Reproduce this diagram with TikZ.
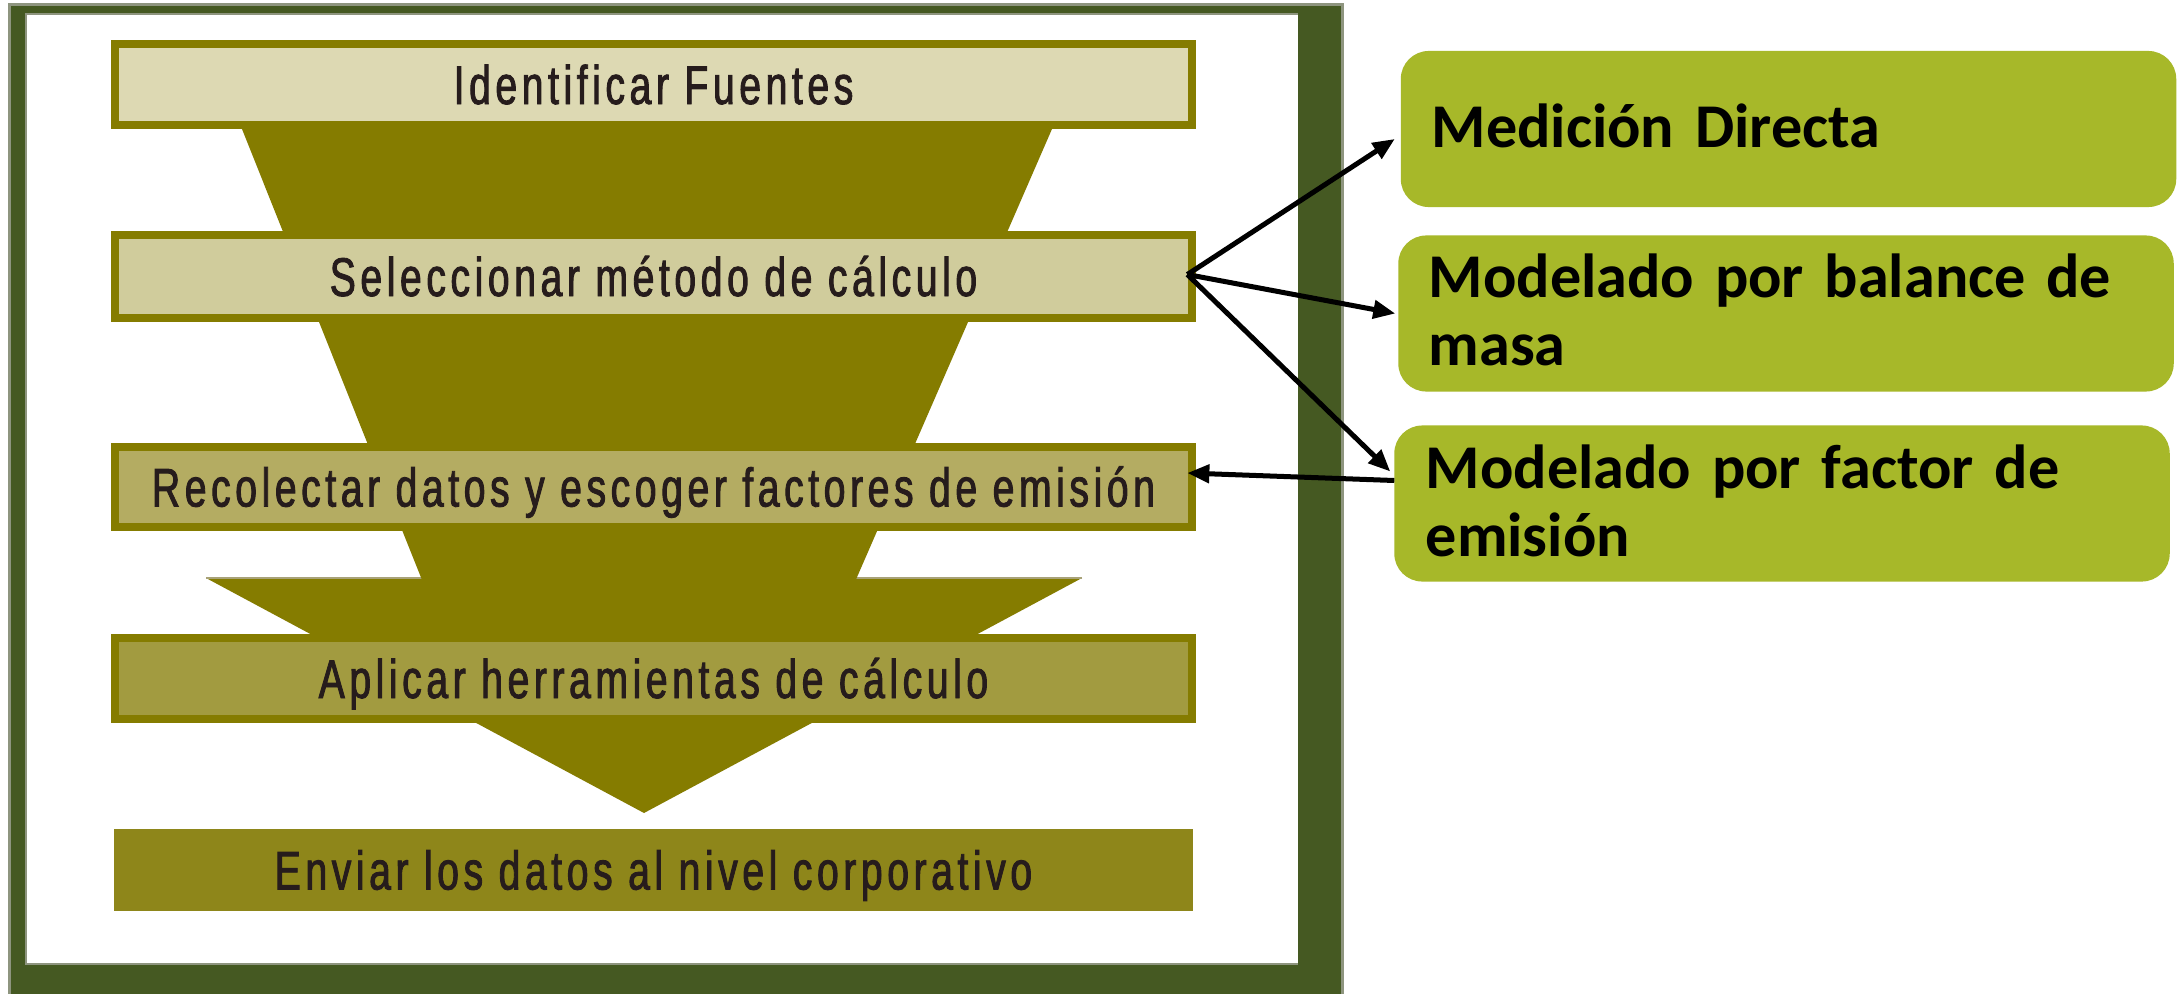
\documentclass[tikz,border=0pt]{standalone}
\usepackage{fontspec}
\setmainfont{Liberation Sans}
\newfontfamily\condf[FakeStretch=0.72,LetterSpace=8.3,FakeBold=1.6]{Liberation Sans}
\newfontfamily\calib[WordSpace=0.8]{Carlito}
\usetikzlibrary{arrows.meta,calc}
\definecolor{frameg}{RGB}{69,89,34}
\definecolor{framegray}{RGB}{142,149,127}
\definecolor{olive}{RGB}{133,124,0}
\definecolor{fillA}{RGB}{221,217,179}
\definecolor{fillB}{RGB}{208,204,156}
\definecolor{fillC}{RGB}{180,172,98}
\definecolor{fillD}{RGB}{162,155,64}
\definecolor{fillE}{RGB}{142,134,26}
\definecolor{leaf}{RGB}{167,184,41}
\definecolor{ink}{RGB}{38,28,28}
\definecolor{seam}{RGB}{168,162,120}
\begin{document}
\begin{tikzpicture}[x=0.01cm,y=-0.01cm,
  stepbox/.style={draw=olive, line width=0.08cm, outer sep=0pt, minimum width=10.77cm,
    inner sep=0pt, text=ink, font=\condf\fontsize{15.5pt}{18pt}\selectfont,
    text height=0.39cm, text depth=0pt},
  lastbox/.style={fill=fillE, outer sep=0pt, minimum width=10.79cm, minimum height=0.82cm,
    inner sep=0pt, text=ink, font=\condf\fontsize{15.5pt}{18pt}\selectfont,
    text height=0.39cm, text depth=0pt},
  leafbox/.style={fill=leaf, rounded corners=0.28cm, outer sep=0pt, minimum width=7.75cm,
    minimum height=1.56cm, inner sep=0pt},
  leaftext/.style={anchor=base west, inner sep=0pt, text width=7.15cm, align=left,
    font=\calib\bfseries\fontsize{17.7pt}{19.4pt}\selectfont, text=black},
  arr/.style={-{Triangle[length=0.22cm,width=0.18cm]}, line width=0.05cm, black}]
\useasboundingbox (0,0) rectangle (2180,994);
\fill[white] (0,0) rectangle (2180,994);
% frame
\fill[framegray] (8,3) rectangle (1344,994);
\fill[frameg] (11,6) rectangle (1341,994);
\fill[framegray] (25,13) rectangle (1298,965);
\fill[white] (27,15) rectangle (1298,963);
% funnel and arrow head
\fill[olive] (206,578) -- (1082,578) -- (644,813) -- cycle;
\draw[seam, line width=0.02cm] (206,578) -- (1082,578);
\fill[olive] (238.4,120) -- (1055.9,120) -- (856.2,579) -- (421.6,579) -- cycle;
% step boxes
\node[stepbox, fill=fillA, minimum height=0.81cm] (b1) at (653.5,84.5) {Identificar Fuentes};
\node[stepbox, fill=fillB, minimum height=0.83cm] (b2) at (653.5,276.5) {Seleccionar método de cálculo};
\node[stepbox, fill=fillC, minimum height=0.80cm] (b3) at (653.5,487) {Recolectar datos y escoger factores de emisión};
\node[stepbox, fill=fillD, minimum height=0.81cm] (b4) at (653.5,678.5) {Aplicar herramientas de cálculo};
\node[lastbox] (b5) at (653.5,870) {Enviar los datos al nivel corporativo};
% method boxes
\node[leafbox] (gA) at (1788.5,129) {};
\node[leafbox] (gB) at (1786,313.5) {};
\node[leafbox] (gC) at (1782,503.5) {};
\node[leaftext] (tA) at (1431,147) {Medición Directa};
\node[leaftext] (tB) at (1428,297) {Modelado por balance de\\masa};
\node[leaftext] (tC) at (1425,488) {Modelado por factor de\\emisión};
% connectors
\draw[arr] ($(b2.east)+(-5,-2)$) -- ($(gA.west)+(-6,10)$);
\draw[arr] ($(b2.east)+(-5,-2)$) -- ($(gB.west)+(-3,0)$);
\draw[arr] ($(b2.east)+(-5,-2)$) -- ($(gC.west)+(-4,-32)$);
\draw[arr] ($(gC.west)+(0,-23)$) -- ($(b3.east)+(-5,-14)$);
\end{tikzpicture}
\end{document}
